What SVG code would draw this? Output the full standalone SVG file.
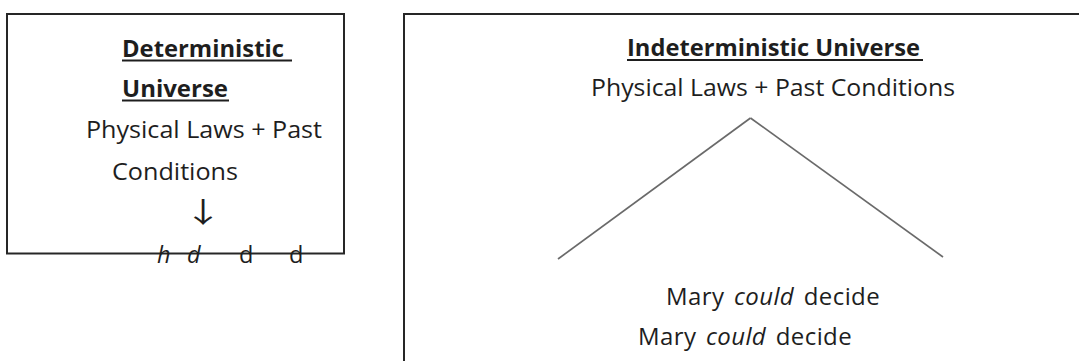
<svg xmlns="http://www.w3.org/2000/svg" width="1079" height="361" viewBox="0 0 1079 361">
<style>
.box{fill:#fff;stroke:#262626;stroke-width:2}
.t{font-family:"Open Sans","Noto Sans","Liberation Sans",sans-serif;font-size:23.5px;fill:#1e1e1e}
.b{font-weight:bold}
.i{font-style:italic}
.m{font-size:24px;word-spacing:3px;letter-spacing:0.4px}
.ul{stroke:#1e1e1e;stroke-width:1.8}
.conn{stroke:#6a6a6a;stroke-width:1.7;fill:none}
.arr{font-family:"Noto Sans CJK SC","Noto Sans CJK JP","DejaVu Sans",sans-serif;font-size:28px;fill:#1e1e1e}
</style>
<rect width="1079" height="361" fill="#fff"/>
<g id="deterministic">
<rect class="box" x="7" y="14" width="337" height="239.5"/>
<text class="t b" x="122" y="57" textLength="162" lengthAdjust="spacingAndGlyphs">Deterministic</text>
<line class="ul" x1="122" y1="60.5" x2="292" y2="60.5"/>
<text class="t b" x="122" y="97" textLength="106" lengthAdjust="spacingAndGlyphs">Universe</text>
<line class="ul" x1="122" y1="100.5" x2="229" y2="100.5"/>
<text class="t" x="86" y="138" textLength="236" lengthAdjust="spacingAndGlyphs">Physical Laws + Past</text>
<text class="t" x="112" y="180" textLength="126" lengthAdjust="spacingAndGlyphs">Conditions</text>
<text class="arr" transform="translate(203,223) scale(1.4,1)" x="0" y="0" text-anchor="middle">↓</text>
<text class="t i" x="157" y="263">h</text>
<text class="t i" x="187" y="263">d</text>
<text class="t" x="239" y="263">d</text>
<text class="t" x="289" y="263">d</text>
</g>
<g id="indeterministic">
<rect class="box" x="404" y="14" width="700" height="380"/>
<text class="t b" x="627" y="56" textLength="293" lengthAdjust="spacingAndGlyphs">Indeterministic Universe</text>
<line class="ul" x1="627" y1="60" x2="923" y2="60"/>
<text class="t" x="591" y="96" textLength="364" lengthAdjust="spacingAndGlyphs">Physical Laws + Past Conditions</text>
<text class="t m" x="666" y="305">Mary <tspan class="i">could</tspan> decide</text>
<text class="t m" x="638" y="345">Mary <tspan class="i">could</tspan> decide</text>
</g>
<g id="connectors">
<line class="conn" x1="750.5" y1="118" x2="558" y2="259"/>
<line class="conn" x1="750.5" y1="118" x2="943" y2="257"/>
</g>
</svg>
